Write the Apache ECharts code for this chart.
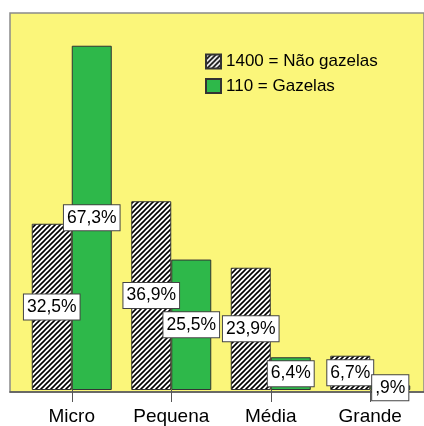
<!DOCTYPE html>
<html>
<head>
<meta charset="utf-8">
<script src="https://cdn.jsdelivr.net/npm/echarts@6/dist/echarts.min.js"></script>
<style>
  html, body { margin: 0; padding: 0; background: #fff; }
  #chart { width: 424px; height: 426px; }
</style>
</head>
<body>
<div id="chart"></div>
<script>
// dados
const categories = ['Micro', 'Pequena', 'Média', 'Grande']
const seriesNames = ['1400 = Não gazelas', '110 = Gazelas']
const naoGazelas = [32.5, 36.9, 23.9, 6.7]
const gazelas = [67.3, 25.5, 6.4, 0.9]

const FONT = 'Liberation Sans, Arial, sans-serif'

// padrão tracejado diagonal
function hatch () {
  const c = document.createElement('canvas')
  c.width = c.height = 5
  const ctx = c.getContext('2d')
  ctx.fillStyle = '#fff'
  ctx.fillRect(0, 0, 5, 5)
  ctx.strokeStyle = '#000'
  ctx.lineWidth = 1.6
  ctx.beginPath()
  ctx.moveTo(-1, 6); ctx.lineTo(6, -1)
  ctx.moveTo(-1, 1); ctx.lineTo(1, -1)
  ctx.moveTo(4, 6); ctx.lineTo(6, 4)
  ctx.stroke()
  return c
}

// 0.9 -> ",9%"
function pct (v) {
  return v.toFixed(1).replace('.', ',').replace(/^0/, '') + '%'
}

const label = {
  show: true,
  position: 'inside',
  formatter: p => pct(p.value),
  color: '#000',
  fontFamily: FONT,
  fontSize: 17.5,
  backgroundColor: '#fff',
  borderColor: '#444',
  borderWidth: 1,
  padding: [4, 3, 3, 3]
}

const chart = echarts.init(document.getElementById('chart'))
chart.setOption({
  animation: false,
  legend: {
    orient: 'vertical',
    left: 205,
    top: 53,
    padding: 0,
    itemWidth: 15,
    itemHeight: 14,
    itemGap: 7.5,
    icon: 'rect',
    data: seriesNames,
    textStyle: { fontFamily: FONT, fontSize: 17, color: '#000' }
  },
  grid: [
    { left: 22, right: 4, top: 13, bottom: 34 },
    { left: 10, right: -5, top: 13, bottom: 34, show: true, backgroundColor: '#fbf67a', borderColor: '#8a8a8a', borderWidth: 1.5, z: 0 }
  ],
  xAxis: [
    {
      type: 'category',
      data: categories,
      axisLine: { show: false },
      axisTick: { show: true, alignWithLabel: true, length: 12, lineStyle: { color: '#555' } },
      axisLabel: { color: '#000', fontFamily: FONT, fontSize: 19, margin: 17 }
    },
    { gridIndex: 1, type: 'value', show: true, axisLine: { show: true, onZero: false, lineStyle: { color: '#555', width: 1.5 } }, axisTick: { show: false }, axisLabel: { show: false }, splitLine: { show: false } }
  ],
  yAxis: [
    { type: 'value', min: 0, max: 73.7, show: false },
    { gridIndex: 1, type: 'value', show: false }
  ],
  series: [
    {
      name: seriesNames[0],
      type: 'bar',
      data: naoGazelas,
      barWidth: 40,
      barGap: '0%',
      itemStyle: { color: { image: hatch(), repeat: 'repeat' }, borderColor: '#333', borderWidth: 1 },
      label: label
    },
    {
      name: seriesNames[1],
      type: 'bar',
      data: gazelas,
      barWidth: 40,
      barGap: '0%',
      itemStyle: { color: '#2eb84a', borderColor: '#333', borderWidth: 1 },
      label: label
    }
  ]
})
</script>
</body>
</html>
